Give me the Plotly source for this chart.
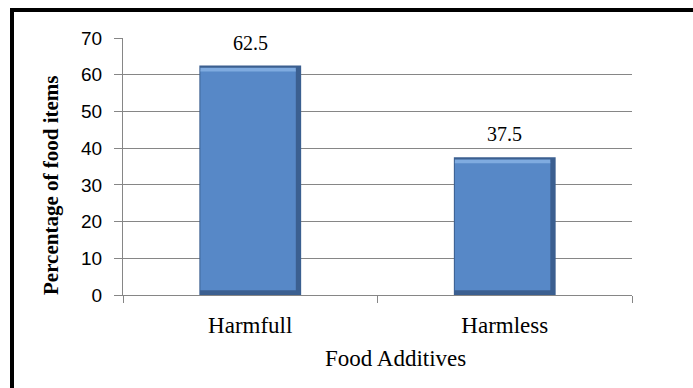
import plotly.graph_objects as go

categories = ["Harmfull", "Harmless"]
values = [62.5, 37.5]
y_ticks = [0, 10, 20, 30, 40, 50, 60, 70]
y_title = "Percentage of food items"
x_title = "Food Additives"

W, H = 693, 388
L, R, T, B = 123, 61, 38, 93
pw, ph = W - L - R, H - T - B

def px_x(p):
    return (p - L) / pw

def px_y(p):
    return (H - B - p) / ph

fig = go.Figure()
# outer (dark edge) bar
fig.add_trace(go.Bar(x=categories, y=values, width=0.4,
                     marker=dict(color="#3B5F90", line=dict(width=0)),
                     hoverinfo="skip", showlegend=False))
# inner face bar
bev = 1.3
fig.add_trace(go.Bar(x=categories, y=[v - 2 * bev for v in values], base=[bev] * len(values),
                     width=0.375, offset=-0.196,
                     marker=dict(color="#5788C7", line=dict(width=0)),
                     showlegend=False))
# light top strip
fig.add_trace(go.Bar(x=categories, y=[1.0] * len(values), base=[v - 1.6 for v in values],
                     width=0.375, offset=-0.196, marker=dict(color="#7FABE0", line=dict(width=0)),
                     hoverinfo="skip", showlegend=False))

for c, v in zip(categories, values):
    fig.add_annotation(x=c, y=v, text=f"{v}", showarrow=False, yshift=23,
                       font=dict(family="Liberation Serif", size=20, color="black"))

fig.add_annotation(xref="paper", yref="paper", x=px_x(395), y=px_y(373), text=x_title,
                   showarrow=False, font=dict(family="Liberation Serif", size=23, color="black"))
fig.add_annotation(xref="paper", yref="paper", x=px_x(37), y=px_y(186), text=f"<b>{y_title}</b>",
                   textangle=-90, showarrow=False,
                   font=dict(family="Liberation Serif", size=21, color="black"))

fig.add_shape(type="rect", xref="paper", yref="paper",
              x0=px_x(12), y0=px_y(500), x1=px_x(900), y1=px_y(10),
              line=dict(color="black", width=4), fillcolor="rgba(0,0,0,0)", layer="above")

fig.update_layout(
    width=W, height=H,
    margin=dict(l=L, r=R, t=T, b=B, autoexpand=False),
    paper_bgcolor="white", plot_bgcolor="white",
    barmode="overlay", bargap=0.6,
    showlegend=False,
    xaxis=dict(type="category", showline=True, linecolor="#868686", linewidth=1,
               ticks="outside", tickson="boundaries", ticklen=7, tickcolor="#868686",
               ticklabelstandoff=9,
               tickfont=dict(family="Liberation Serif", size=23, color="black"),
               showgrid=False, zeroline=False),
    yaxis=dict(range=[0, 70], tickvals=y_ticks, showline=True, linecolor="#868686", linewidth=1,
               ticks="outside", ticklen=8, tickcolor="#868686",
               ticklabelstandoff=8,
               tickfont=dict(family="Liberation Sans", size=19, color="black"),
               showgrid=True, gridcolor="#868686", gridwidth=1, zeroline=False),
)

fig.write_html("out.html")
